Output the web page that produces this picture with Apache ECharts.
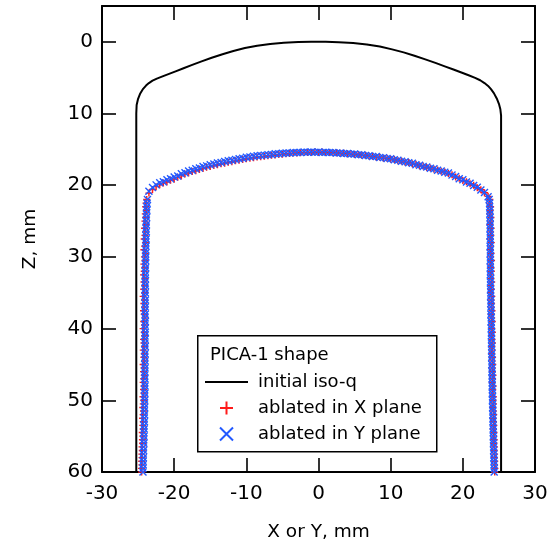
<!DOCTYPE html>
<html>
<head>
<meta charset="utf-8">
<script src="https://cdn.jsdelivr.net/npm/echarts@6/dist/echarts.min.js"></script>
<style>html,body{margin:0;padding:0;background:#fff}#c{width:552px;height:544px}</style>
</head>
<body>
<div id="c"></div>
<script>
// ---- tick labels ----
const xTicks = [-30, -20, -10, 0, 10, 20, 30];
const yTicks = [0, 10, 20, 30, 40, 50, 60];
const innerXTicks = [-20, -10, 0, 10, 20];

// ---- initial iso-q contour ----
const initX = [-25.25, -25.25, -25.2, -25.0, -24.7, -24.3, -23.9, -23.5, -23.0, -22.4, -21.7, -20.8, -19.8, -18.7, -17.5, -16.2, -14.8, -13.3, -11.8, -10.2, -8.5, -6.7, -4.8, -2.8, -1.0, 0, 1.0, 2.8, 4.8, 6.7, 8.5, 10.2, 11.8, 13.3, 14.8, 16.2, 17.5, 18.7, 19.8, 20.8, 21.7, 22.4, 23.0, 23.5, 23.9, 24.3, 24.7, 25.0, 25.2, 25.3, 25.3];
const initZ = [60, 10, 8.8, 7.95, 7.2, 6.55, 6.1, 5.75, 5.42, 5.13, 4.85, 4.5, 4.11, 3.68, 3.22, 2.73, 2.22, 1.72, 1.27, 0.87, 0.54, 0.29, 0.12, 0.03, 0, 0, 0, 0.05, 0.16, 0.36, 0.66, 1.05, 1.47, 1.93, 2.44, 2.94, 3.42, 3.86, 4.27, 4.66, 5.02, 5.36, 5.75, 6.15, 6.6, 7.15, 7.9, 8.65, 9.4, 10.3, 60];

// ---- ablated contour, top (arc) part ----
const arcX = [-23.5, -23, -22.5, -22, -21.5, -21, -20.5, -20, -19.5, -19, -18.5, -18, -17.5, -17, -16.5, -16, -15.5, -15, -14.5, -14, -13.5, -13, -12.5, -12, -11.5, -11, -10.5, -10, -9.5, -9, -8.5, -8, -7.5, -7, -6.5, -6, -5.5, -5, -4.5, -4, -3.5, -3, -2.5, -2, -1.5, -1, -0.5, 0, 0.5, 1, 1.5, 2, 2.5, 3, 3.5, 4, 4.5, 5, 5.5, 6, 6.5, 7, 7.5, 8, 8.5, 9, 9.5, 10, 10.5, 11, 11.5, 12, 12.5, 13, 13.5, 14, 14.5, 15, 15.5, 16, 16.5, 17, 17.5, 18, 18.5, 19, 19.5, 20, 20.5, 21, 21.5, 22, 22.5, 23, 23.5];
const arcZ_Y = [20.85, 20.3, 19.95, 19.65, 19.5, 19.25, 19.1, 18.85, 18.7, 18.4, 18.25, 18.0, 17.9, 17.7, 17.6, 17.4, 17.3, 17.15, 17.05, 16.9, 16.82, 16.7, 16.6, 16.5, 16.4, 16.3, 16.22, 16.1, 16.05, 15.97, 15.9, 15.86, 15.8, 15.74, 15.7, 15.62, 15.6, 15.55, 15.5, 15.5, 15.45, 15.42, 15.42, 15.38, 15.4, 15.36, 15.4, 15.37, 15.42, 15.4, 15.45, 15.44, 15.5, 15.5, 15.56, 15.57, 15.65, 15.66, 15.75, 15.76, 15.86, 15.88, 15.98, 16.0, 16.12, 16.15, 16.28, 16.32, 16.46, 16.5, 16.66, 16.72, 16.88, 16.95, 17.13, 17.2, 17.38, 17.45, 17.63, 17.7, 17.9, 18.0, 18.2, 18.3, 18.58, 18.78, 19.08, 19.25, 19.55, 19.72, 20.05, 20.28, 20.65, 21.0, 21.6];
const arcZ_X = [21.1, 20.6, 20.2, 19.95, 19.7, 19.55, 19.3, 19.15, 18.9, 18.7, 18.45, 18.3, 18.1, 17.98, 17.8, 17.68, 17.5, 17.4, 17.25, 17.15, 17.0, 16.92, 16.8, 16.72, 16.6, 16.5, 16.4, 16.3, 16.22, 16.15, 16.05, 16.02, 15.95, 15.88, 15.82, 15.78, 15.7, 15.68, 15.6, 15.58, 15.52, 15.5, 15.46, 15.45, 15.42, 15.43, 15.38, 15.42, 15.38, 15.44, 15.42, 15.48, 15.47, 15.55, 15.54, 15.62, 15.62, 15.72, 15.72, 15.82, 15.83, 15.94, 15.95, 16.08, 16.08, 16.22, 16.24, 16.38, 16.42, 16.58, 16.62, 16.78, 16.84, 17.02, 17.08, 17.27, 17.33, 17.52, 17.6, 17.77, 17.86, 18.06, 18.16, 18.38, 18.54, 18.85, 19.02, 19.33, 19.52, 19.8, 20.0, 20.35, 20.62, 21.05, 21.55];

// ---- ablated contour, side walls ----
const wallZ = [22, 22.5, 23, 23.5, 24, 24.5, 25, 25.5, 26, 26.5, 27, 27.5, 28, 28.5, 29, 29.5, 30, 30.5, 31, 31.5, 32, 32.5, 33, 33.5, 34, 34.5, 35, 35.5, 36, 36.5, 37, 37.5, 38, 38.5, 39, 39.5, 40, 40.5, 41, 41.5, 42, 42.5, 43, 43.5, 44, 44.5, 45, 45.5, 46, 46.5, 47, 47.5, 48, 48.5, 49, 49.5, 50, 50.5, 51, 51.5, 52, 52.5, 53, 53.5, 54, 54.5, 55, 55.5, 56, 56.5, 57, 57.5, 58, 58.5, 59, 59.5, 60];
const leftX_Y = [-23.7, -23.75, -23.8, -23.78, -23.85, -23.82, -23.88, -23.85, -23.9, -23.86, -23.92, -23.88, -23.95, -23.9, -23.94, -23.98, -23.92, -23.96, -24.0, -23.95, -24.02, -23.97, -24.0, -24.04, -23.98, -24.02, -24.0, -24.05, -23.98, -24.03, -24.0, -24.06, -24.01, -24.04, -23.99, -24.05, -24.02, -24.0, -24.06, -24.02, -24.05, -24.0, -24.07, -24.03, -24.06, -24.02, -24.08, -24.04, -24.06, -24.1, -24.05, -24.08, -24.04, -24.1, -24.06, -24.1, -24.08, -24.12, -24.1, -24.14, -24.1, -24.15, -24.12, -24.18, -24.15, -24.2, -24.18, -24.22, -24.2, -24.25, -24.24, -24.28, -24.27, -24.3, -24.3, -24.33, -24.32];
const leftX_X = [-23.8, -23.9, -23.95, -23.85, -24.0, -23.95, -24.05, -23.9, -24.1, -23.95, -24.05, -24.15, -23.98, -24.1, -24.2, -24.0, -24.12, -24.05, -24.2, -24.08, -24.15, -24.25, -24.05, -24.18, -24.1, -24.22, -24.08, -24.3, -24.12, -24.2, -24.1, -24.25, -24.15, -24.05, -24.22, -24.12, -24.3, -24.15, -24.1, -24.25, -24.18, -24.12, -24.28, -24.15, -24.2, -24.1, -24.3, -24.18, -24.25, -24.15, -24.22, -24.3, -24.18, -24.25, -24.2, -24.32, -24.22, -24.28, -24.35, -24.25, -24.3, -24.38, -24.28, -24.35, -24.3, -24.42, -24.35, -24.4, -24.38, -24.45, -24.42, -24.48, -24.45, -24.5, -24.48, -24.52, -24.5];
const rightX_Y = [23.65, 23.7, 23.72, 23.75, 23.74, 23.78, 23.76, 23.8, 23.77, 23.8, 23.78, 23.82, 23.8, 23.78, 23.83, 23.8, 23.82, 23.79, 23.84, 23.81, 23.83, 23.8, 23.85, 23.82, 23.86, 23.84, 23.88, 23.85, 23.9, 23.87, 23.9, 23.92, 23.89, 23.94, 23.92, 23.96, 23.94, 23.97, 23.95, 23.98, 23.97, 24.0, 23.98, 24.02, 24.0, 24.03, 24.01, 24.05, 24.03, 24.06, 24.05, 24.08, 24.06, 24.1, 24.08, 24.12, 24.1, 24.14, 24.13, 24.16, 24.15, 24.18, 24.17, 24.2, 24.2, 24.22, 24.22, 24.25, 24.24, 24.27, 24.27, 24.3, 24.29, 24.32, 24.32, 24.35, 24.34];
const rightX_X = [23.75, 23.68, 23.85, 23.8, 23.72, 23.9, 23.82, 23.75, 23.92, 23.85, 23.88, 23.76, 23.95, 23.85, 23.8, 23.92, 23.86, 23.98, 23.82, 23.9, 23.95, 23.85, 23.9, 24.0, 23.88, 23.95, 23.85, 24.02, 23.92, 23.98, 23.95, 24.05, 23.92, 24.0, 24.08, 23.96, 24.02, 24.1, 23.98, 24.05, 24.1, 24.02, 24.08, 24.0, 24.12, 24.05, 24.15, 24.08, 24.1, 24.18, 24.12, 24.08, 24.2, 24.15, 24.1, 24.22, 24.18, 24.25, 24.15, 24.22, 24.28, 24.2, 24.25, 24.3, 24.22, 24.32, 24.28, 24.35, 24.3, 24.38, 24.35, 24.4, 24.38, 24.42, 24.4, 24.45, 24.42];

const FONT = 'DejaVu Sans';
const RED = '#ff1a1a', BLUE = '#2259ff';

function profile(arcZ, leftX, rightX) {
  const pts = [];
  for (let i = wallZ.length - 1; i >= 0; i--) pts.push([leftX[i], wallZ[i]]);
  for (let i = 0; i < arcX.length; i++) pts.push([arcX[i], arcZ[i]]);
  for (let i = 0; i < wallZ.length; i++) pts.push([rightX[i], wallZ[i]]);
  return pts;
}
const initPts = initX.map((x, i) => [x, initZ[i]]);

const chart = echarts.init(document.getElementById('c'), null, {renderer: 'canvas'});
const axisLine = {show: true, onZero: false, lineStyle: {color: '#000', width: 2}};
const tickStyle = {color: '#000', width: 1.6};
chart.setOption({
  animation: false,
  backgroundColor: '#fff',
  textStyle: {fontFamily: FONT},
  grid: {left: 102, top: 6, right: 17, bottom: 72, containLabel: false, outerBoundsMode: 'none'},
  xAxis: [
    {type: 'value', position: 'bottom', min: -30, max: 30, interval: 10,
     axisLine: axisLine,
     axisTick: {show: true, inside: true, length: 14, customValues: innerXTicks, lineStyle: tickStyle},
     axisLabel: {show: true, customValues: xTicks, margin: 12, fontSize: 20, color: '#000', fontFamily: FONT},
     splitLine: {show: false},
     name: 'X or Y, mm', nameLocation: 'middle', nameGap: 51,
     nameTextStyle: {fontSize: 18.5, color: '#000', fontFamily: FONT}},
    {type: 'value', position: 'top', min: -30, max: 30, interval: 10,
     axisLine: axisLine,
     axisTick: {show: true, inside: true, length: 14, customValues: innerXTicks, lineStyle: tickStyle},
     axisLabel: {show: false}, splitLine: {show: false}}
  ],
  yAxis: [
    {type: 'value', position: 'left', inverse: true, min: -5, max: 60,
     axisLine: axisLine,
     axisTick: {show: true, inside: true, length: 14, customValues: yTicks, lineStyle: tickStyle},
     axisLabel: {show: true, customValues: yTicks, margin: 9, fontSize: 20, color: '#000', fontFamily: FONT},
     splitLine: {show: false},
     name: 'Z, mm', nameLocation: 'middle', nameGap: 62, nameRotate: 90,
     nameTextStyle: {fontSize: 18.5, color: '#000', fontFamily: FONT}},
    {type: 'value', position: 'right', inverse: true, min: -5, max: 60,
     axisLine: axisLine,
     axisTick: {show: true, inside: true, length: 14, customValues: yTicks, lineStyle: tickStyle},
     axisLabel: {show: false}, splitLine: {show: false}}
  ],
  legend: {
    show: true, orient: 'vertical', left: 205, top: 369,
    selectedMode: false, itemWidth: 43, itemHeight: 13, itemGap: 0,
    padding: 0,
    textStyle: {fontSize: 18, color: '#000', fontFamily: FONT, lineHeight: 26, padding: [0, 0, 0, 5]},
    data: [
      {name: 'initial iso-q', icon: 'none'},
      {name: 'ablated in X plane'},
      {name: 'ablated in Y plane'}
    ]
  },
  graphic: [
    {type: 'rect', left: 197, top: 335, z: 3, shape: {width: 239, height: 116},
     style: {fill: '#fff', stroke: '#000', lineWidth: 1.5}},
    {type: 'text', left: 210, top: 346, z: 5,
     style: {text: 'PICA-1 shape', fontSize: 18, fontFamily: FONT, fill: '#000'}},
    {type: 'line', z: 5, shape: {x1: 205, y1: 382, x2: 248, y2: 382},
     style: {stroke: '#000', lineWidth: 2}}
  ],
  series: [
    {name: 'initial iso-q', type: 'line', data: initPts, symbol: 'none', showSymbol: false,
     lineStyle: {color: '#000', width: 2, join: 'round'}, itemStyle: {color: '#000'}, z: 2},
    {name: 'ablated in X plane', type: 'scatter', data: profile(arcZ_X, leftX_X, rightX_X),
     symbol: 'path://M0,5L10,5M5,0L5,10', symbolSize: 7,
     itemStyle: {color: 'rgba(0,0,0,0)', borderColor: RED, borderWidth: 1.4, opacity: 1}, z: 2},
    {name: 'ablated in Y plane', type: 'scatter', data: profile(arcZ_Y, leftX_Y, rightX_Y),
     symbol: 'path://M0,0L10,10M10,0L0,10', symbolSize: 7,
     itemStyle: {color: 'rgba(0,0,0,0)', borderColor: BLUE, borderWidth: 1.4, opacity: 1}, z: 2}
  ]
});
</script>
</body>
</html>
